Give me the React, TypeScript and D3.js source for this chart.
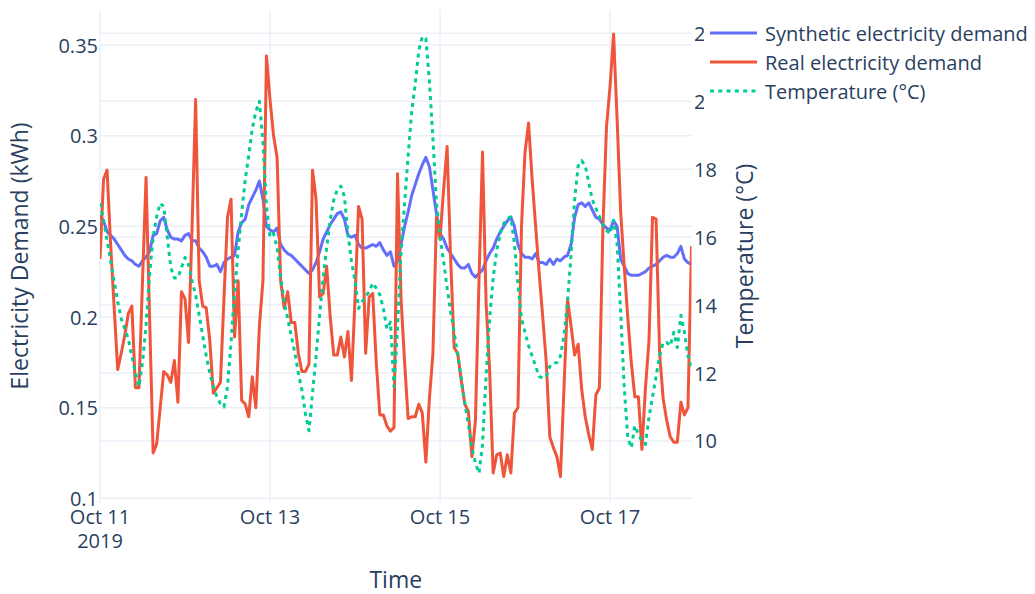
import React from "react";
import * as d3 from "d3";

// hourly readings, Oct 11 00:00 to Oct 17 23:00 (2019)
const startDate = new Date(2019, 9, 11, 0);

const syntheticDemand = [
  0.256, 0.253, 0.247, 0.245, 0.243, 0.240, 0.237, 0.234, 0.232, 0.231, 0.229, 0.228,
  0.231, 0.233, 0.236, 0.245, 0.246, 0.253, 0.255, 0.248, 0.244, 0.243, 0.243, 0.242,
  0.245, 0.246, 0.242, 0.242, 0.238, 0.236, 0.233, 0.228, 0.228, 0.229, 0.225, 0.230,
  0.232, 0.233, 0.234, 0.247, 0.252, 0.254, 0.262, 0.266, 0.270, 0.275, 0.265, 0.250,
  0.248, 0.247, 0.249, 0.240, 0.237, 0.235, 0.234, 0.232, 0.230, 0.228, 0.226, 0.224,
  0.226, 0.230, 0.236, 0.243, 0.247, 0.251, 0.254, 0.257, 0.258, 0.254, 0.245, 0.244,
  0.245, 0.240, 0.238, 0.238, 0.239, 0.240, 0.239, 0.241, 0.237, 0.234, 0.236, 0.228,
  0.231, 0.240, 0.250, 0.258, 0.267, 0.273, 0.279, 0.284, 0.288, 0.283, 0.270, 0.257,
  0.246, 0.243, 0.238, 0.235, 0.232, 0.229, 0.227, 0.227, 0.229, 0.224, 0.222, 0.224,
  0.226, 0.231, 0.235, 0.238, 0.243, 0.247, 0.250, 0.253, 0.255, 0.250, 0.240, 0.235,
  0.233, 0.233, 0.232, 0.235, 0.230, 0.230, 0.229, 0.232, 0.229, 0.232, 0.231, 0.233,
  0.234, 0.240, 0.255, 0.262, 0.263, 0.261, 0.263, 0.259, 0.255, 0.254, 0.251, 0.249,
  0.248, 0.253, 0.250, 0.232, 0.228, 0.224, 0.223, 0.223, 0.223, 0.224, 0.225, 0.227,
  0.228, 0.229, 0.231, 0.233, 0.234, 0.233, 0.233, 0.235, 0.239, 0.232, 0.230, 0.229,
];

const realDemand = [
  0.232, 0.276, 0.281, 0.240, 0.205, 0.171, 0.180, 0.190, 0.202, 0.206, 0.161, 0.161,
  0.220, 0.277, 0.200, 0.125, 0.130, 0.150, 0.170, 0.168, 0.164, 0.176, 0.153, 0.214,
  0.210, 0.186, 0.250, 0.320, 0.220, 0.206, 0.205, 0.187, 0.158, 0.161, 0.164, 0.210,
  0.255, 0.265, 0.189, 0.220, 0.154, 0.152, 0.145, 0.167, 0.150, 0.195, 0.220, 0.344,
  0.320, 0.300, 0.288, 0.220, 0.205, 0.214, 0.197, 0.197, 0.180, 0.170, 0.170, 0.174,
  0.281, 0.265, 0.211, 0.213, 0.228, 0.200, 0.179, 0.179, 0.189, 0.178, 0.192, 0.165,
  0.210, 0.261, 0.254, 0.180, 0.211, 0.213, 0.175, 0.146, 0.146, 0.140, 0.137, 0.139,
  0.279, 0.210, 0.175, 0.144, 0.145, 0.145, 0.152, 0.147, 0.120, 0.155, 0.180, 0.255,
  0.243, 0.270, 0.294, 0.232, 0.183, 0.180, 0.165, 0.152, 0.148, 0.123, 0.143, 0.220,
  0.291, 0.208, 0.171, 0.114, 0.124, 0.125, 0.112, 0.124, 0.114, 0.147, 0.150, 0.250,
  0.291, 0.307, 0.276, 0.250, 0.224, 0.200, 0.175, 0.134, 0.128, 0.123, 0.112, 0.161,
  0.210, 0.195, 0.179, 0.185, 0.160, 0.145, 0.135, 0.127, 0.157, 0.161, 0.250, 0.305,
  0.327, 0.356, 0.309, 0.258, 0.228, 0.200, 0.175, 0.156, 0.156, 0.127, 0.161, 0.187,
  0.255, 0.254, 0.180, 0.155, 0.143, 0.134, 0.131, 0.131, 0.153, 0.146, 0.150, 0.239,
];

const temperature = [
  17.0, 16.5, 15.9, 15.3, 14.7, 14.1, 13.6, 13.3, 13.0, 12.5, 12.0, 11.6,
  12.3, 13.4, 14.9, 16.0, 16.6, 17.0, 16.9, 16.0, 15.1, 14.8, 14.8, 15.1,
  15.4, 15.2, 14.7, 14.3, 13.7, 13.1, 12.5, 12.0, 11.6, 11.3, 11.1, 11.0,
  11.6, 12.9, 14.4, 15.6, 16.7, 17.7, 18.4, 19.2, 19.7, 20.0, 18.8, 16.9,
  16.0, 16.1, 15.7, 14.8, 14.1, 13.6, 13.1, 12.6, 12.0, 11.5, 10.8, 10.3,
  11.4, 12.5, 13.7, 14.8, 15.7, 16.5, 17.1, 17.4, 17.5, 17.2, 16.1, 15.3,
  14.7, 13.9, 14.1, 14.25, 14.4, 14.65, 14.5, 14.3, 13.9, 13.3, 13.5, 11.6,
  13.3, 15.6, 17.0, 18.4, 19.7, 20.5, 21.5, 21.9, 21.85, 20.6, 18.9, 17.0,
  16.0, 15.3, 14.5, 13.8, 13.2, 12.5, 11.85, 11.1, 10.5, 9.8, 9.35, 9.05,
  9.9, 11.9, 13.6, 14.8, 15.6, 16.1, 16.4, 16.55, 16.6, 15.8, 14.6, 13.6,
  13.2, 12.8, 12.5, 12.2, 11.9, 11.85, 11.9, 12.2, 12.3, 12.3, 12.5, 13.1,
  14.1, 15.5, 17.1, 18.1, 18.25, 18.1, 17.6, 17.1, 16.85, 16.6, 16.35, 16.2,
  16.1, 16.5, 15.8, 13.8, 11.6, 10.1, 9.8, 10.45, 10.2, 10.0, 9.9, 10.7,
  11.3, 11.9, 12.5, 12.9, 12.9, 12.8, 13.2, 12.75, 13.7, 13.2, 12.5, 12.2,
];

const demandTicks = [0.1, 0.15, 0.2, 0.25, 0.3, 0.35];
const tempTicks = [10, 12, 14, 16, 18, 20, 22];
const dateTicks = [11, 13, 15, 17];

const seriesNames = ["Synthetic electricity demand", "Real electricity demand", "Temperature (°C)"];
const seriesColors = ["#636efa", "#EF553B", "#00cc96"];

const W = 1035;
const H = 594;
const left = 100, right = 691.5, top = 10, bottom = 502;
const textColor = "#2a3f5f";
const gridColor = "#ebf0f8";
const font = "'Open Sans', verdana, arial, sans-serif";
const tickSize = 20;
const titleSize = 23;

export default function App() {
  const times = realDemand.map((_, i) => d3.timeHour.offset(startDate, i));

  const x = d3.scaleTime().domain([times[0], times[times.length - 1]]).range([left, right]);
  const y = d3.scaleLinear().domain([0.098, 0.3693]).range([bottom, top]);
  const y2 = d3.scaleLinear().domain([8.204, 22.686]).range([bottom, top]);

  const demandLine = d3
    .line<number>()
    .x((_, i) => x(times[i]))
    .y((d) => y(d));
  const tempLine = d3
    .line<number>()
    .x((_, i) => x(times[i]))
    .y((d) => y2(d));

  return (
    <svg width={W} height={H} style={{ position: "absolute", left: 0, top: 0, background: "#fff" }} fontFamily={font}>
      <defs>
        <clipPath id="plot-clip">
          <rect x={left} y={top} width={right - left} height={bottom - top} />
        </clipPath>
      </defs>

      {/* grid */}
      <g stroke={gridColor} strokeWidth={1.5}>
        {dateTicks.map((d) => {
          const px = x(new Date(2019, 9, d));
          return <line key={"x" + d} x1={px} x2={px} y1={top} y2={bottom} />;
        })}
        {demandTicks.map((t) => (
          <line key={"y" + t} x1={left} x2={right} y1={y(t)} y2={y(t)} />
        ))}
        {tempTicks.map((t) => (
          <line key={"t" + t} x1={left} x2={right} y1={y2(t)} y2={y2(t)} />
        ))}
      </g>

      {/* lines */}
      <g clipPath="url(#plot-clip)" fill="none" strokeLinejoin="round">
        <path d={demandLine(syntheticDemand) || ""} stroke={seriesColors[0]} strokeWidth={3} />
        <path d={demandLine(realDemand) || ""} stroke={seriesColors[1]} strokeWidth={3} />
        <path d={tempLine(temperature) || ""} stroke={seriesColors[2]} strokeWidth={3} strokeDasharray="4 4.3" />
      </g>

      {/* left axis */}
      <g fill={textColor} fontSize={tickSize}>
        {demandTicks.map((t) => (
          <text key={t} x={98} y={y(t)} textAnchor="end" dominantBaseline="central">
            {String(t)}
          </text>
        ))}
      </g>
      <text
        transform={`translate(28,${(top + bottom) / 2}) rotate(-90)`}
        textAnchor="middle"
        fill={textColor}
        fontSize={titleSize}
      >
        Electricity Demand (kWh)
      </text>

      {/* right axis */}
      <g fill={textColor} fontSize={tickSize}>
        {tempTicks.map((t) => (
          <text key={t} x={694} y={y2(t)} dominantBaseline="central">
            {t}
          </text>
        ))}
      </g>
      <text
        transform={`translate(753,${(top + bottom) / 2}) rotate(-90)`}
        textAnchor="middle"
        fill={textColor}
        fontSize={titleSize}
      >
        Temperature (°C)
      </text>

      {/* x axis */}
      <g fill={textColor} fontSize={tickSize} textAnchor="middle">
        {dateTicks.map((d) => {
          const date = new Date(2019, 9, d);
          return (
            <text key={d} x={x(date)} y={524}>
              {d3.timeFormat("%b %d")(date)}
            </text>
          );
        })}
        <text x={x(new Date(2019, 9, 11))} y={548}>2019</text>
      </g>
      <text x={(left + right) / 2} y={588} textAnchor="middle" fill={textColor} fontSize={titleSize}>
        Time
      </text>

      {/* legend */}
      <rect x={704} y={12} width={W - 704} height={100} fill="#fff" />
      {seriesNames.map((name, i) => {
        const ly = 33 + i * 29;
        return (
          <g key={name}>
            <line
              x1={710}
              x2={757}
              y1={ly}
              y2={ly}
              stroke={seriesColors[i]}
              strokeWidth={3}
              strokeDasharray={i === 2 ? "4 4.3" : undefined}
            />
            <text x={765} y={ly} dominantBaseline="central" fill={textColor} fontSize={tickSize}>
              {name}
            </text>
          </g>
        );
      })}
    </svg>
  );
}
